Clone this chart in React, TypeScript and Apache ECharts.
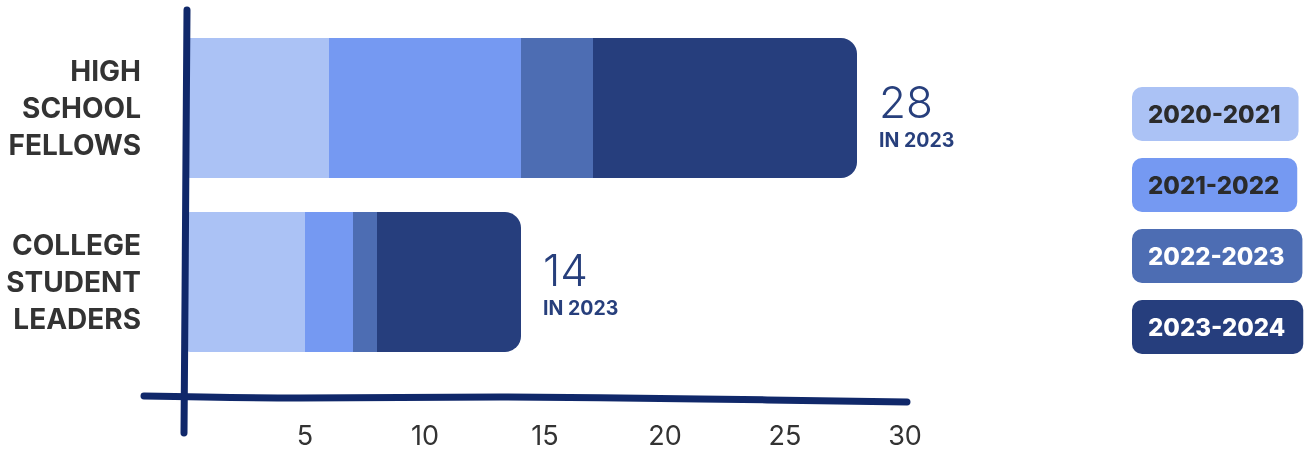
import React, { useEffect, useRef } from "react";
import * as echarts from "echarts";

// Program groups shown on the vertical axis (top to bottom)
const categories = ["HIGH\nSCHOOL\nFELLOWS", "COLLEGE\nSTUDENT\nLEADERS"];

// Cohort years, one stacked segment each
const periods = ["2020-2021", "2021-2022", "2022-2023", "2023-2024"];

// Participants per cohort, per program (same order as categories)
const cohort2020 = [6, 5];
const cohort2021 = [8, 2];
const cohort2022 = [3, 1];
const cohort2023 = [11, 6];

const seriesValues = [cohort2020, cohort2021, cohort2022, cohort2023];

// Value axis ticks
const xMin = 0;
const xMax = 30;
const xStep = 5;

const totalNote = "IN 2023";

// Styling
const segmentColors = ["#abc2f5", "#7599f2", "#4d6db3", "#263e7d"];
const legendTextColors = ["#2b2b2b", "#2b2b2b", "#ffffff", "#ffffff"];
const ink = "#10286a";
const labelNavy = "#273f7c";
const totalLabelShift = [9, 3];

export default function App() {
  const ref = useRef<HTMLDivElement>(null);

  useEffect(() => {
    if (!ref.current) return;
    const chart = echarts.init(ref.current, null, { renderer: "svg" });

    const totals = categories.map((_, i) =>
      seriesValues.reduce((s, arr) => s + arr[i], 0)
    );
    const last = periods.length - 1;

    const series = periods.map((name, si) => {
      const radius =
        si === 0 ? [5, 0, 0, 5] : si === last ? [0, 16, 16, 0] : 0;
      const data = seriesValues[si].map((v, ci) =>
        si === last
          ? { value: v, label: { offset: [0, totalLabelShift[ci]] } }
          : v
      );
      return {
        type: "bar",
        name,
        stack: "total",
        barWidth: 140,
        data,
        itemStyle: { color: segmentColors[si], borderRadius: radius },
        label:
          si === last
            ? {
                show: true,
                position: "right",
                distance: 22,
                align: "left",
                formatter: (p: any) =>
                  `{a|${totals[p.dataIndex]}}\n{b|${totalNote}}`,
                rich: {
                  a: {
                    fontFamily: "Inter",
                    fontSize: 44,
                    fontWeight: 300,
                    color: labelNavy,
                    lineHeight: 46,
                  },
                  b: {
                    fontFamily: "Inter",
                    fontSize: 19.5,
                    fontWeight: 700,
                    color: labelNavy,
                    lineHeight: 30,
                  },
                },
              }
            : { show: false },
      };
    });

    chart.setOption({
      animation: false,
      grid: { left: 185, right: 399, top: 21, bottom: 83, containLabel: false },
      legend: {
        orient: "vertical",
        left: 1127,
        top: 87,
        padding: 0,
        itemWidth: 0,
        itemHeight: 0,
        itemGap: 17,
        selectedMode: false,
        icon: "none",
        data: periods.map((name, i) => ({
          name,
          textStyle: {
            color: legendTextColors[i],
            backgroundColor: segmentColors[i],
          },
        })),
        textStyle: {
          fontFamily: "Inter",
          fontSize: 24,
          fontWeight: 800,
          lineHeight: 28,
          borderRadius: 10,
          padding: [13, 18, 13, 16],
        },
      },
      xAxis: {
        type: "value",
        min: xMin,
        max: xMax,
        interval: xStep,
        axisLine: { show: false },
        axisTick: { show: false },
        splitLine: { show: false },
        axisLabel: {
          margin: 53,
          fontFamily: "Inter",
          fontSize: 27,
          color: "#333333",
          formatter: (v: number) => (v === 0 ? "" : String(v)),
        },
      },
      yAxis: {
        type: "category",
        inverse: true,
        data: categories,
        axisLine: { show: false },
        axisTick: { show: false },
        axisLabel: {
          margin: 44,
          fontFamily: "Inter",
          fontSize: 28,
          fontWeight: 700,
          lineHeight: 37,
          color: "#333333",
          align: "right",
        },
      },
      graphic: [
        {
          type: "polyline",
          z: 10,
          shape: {
            points: [
              [187, 10],
              [186, 150],
              [185, 300],
              [184, 433],
            ],
            smooth: 0.4,
          },
          style: { stroke: ink, lineWidth: 7, lineCap: "round", fill: null },
        },
        {
          type: "polyline",
          z: 10,
          shape: {
            points: [
              [144, 396],
              [300, 398],
              [500, 397],
              [700, 399],
              [907, 402],
            ],
            smooth: 0.4,
          },
          style: { stroke: ink, lineWidth: 7, lineCap: "round", fill: null },
        },
      ],
      series,
    });

    return () => chart.dispose();
  }, []);

  return (
    <div
      ref={ref}
      style={{ position: "fixed", left: 0, top: 0, width: 1304, height: 452 }}
    />
  );
}
